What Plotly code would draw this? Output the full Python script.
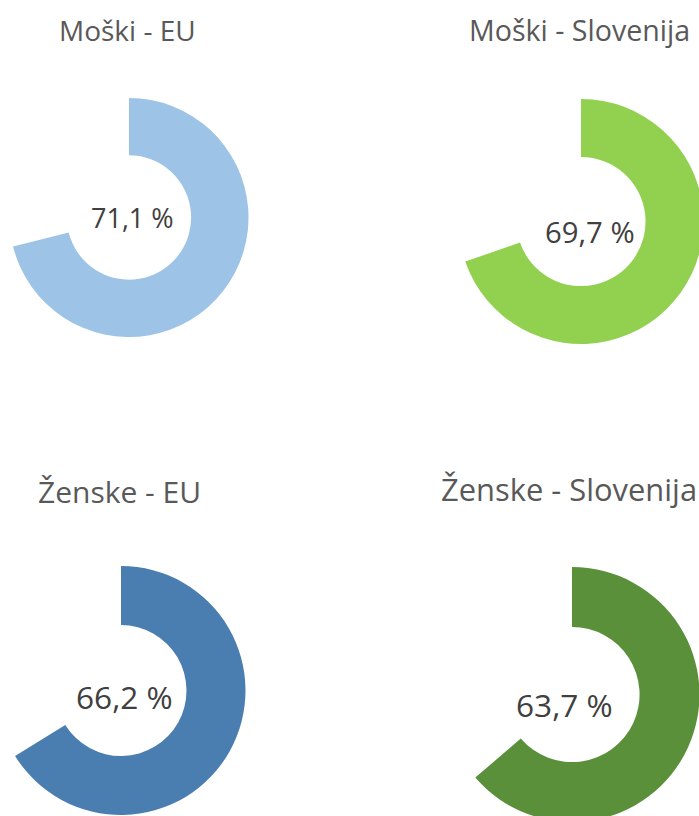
import plotly.graph_objects as go

OFF = 12            # left padding of the canvas, hidden by the page shift below
W, H = 699 + OFF + 20, 840

titles = ["Moški - EU", "Moški - Slovenija", "Ženske - EU", "Ženske - Slovenija"]
values = [71.1, 69.7, 66.2, 63.7]
labels = ["71,1 %", "69,7 %", "66,2 %", "63,7 %"]
colors = ["#9DC3E6", "#92D050", "#4A7EB0", "#5B903A"]

# layout (pixels from top-left of window): pie centre x, centre y, outer radius
centres = [(129, 217.5, 119.5), (581, 221.5, 122.5), (121, 690.5, 124.5), (572, 694.5, 127.5)]
label_pos = [(132.5, 218), (590, 232), (124, 696), (564, 704)]
label_size = [27, 29.3, 31.6, 31.6]
title_pos = [(127, 30), (579, 30), (119.5, 491), (569, 489)]
title_size = [28, 28.6, 30, 30.9]
holes = [0.52, 0.527, 0.526, 0.53]

fig = go.Figure()
for i in range(4):
    cx, cy, r = centres[i]
    cx += OFF
    fig.add_trace(go.Pie(
        values=[values[i], 100 - values[i]],
        labels=["a", "b"],
        marker=dict(colors=[colors[i], "rgba(0,0,0,0)"], line=dict(width=0)),
        hole=holes[i],
        sort=False,
        direction="clockwise",
        rotation=0,
        textinfo="none",
        hoverinfo="skip",
        domain=dict(x=[(cx - r) / W, (cx + r) / W],
                    y=[(H - (cy + r)) / H, (H - (cy - r)) / H]),
        showlegend=False,
    ))
    lx, ly = label_pos[i]
    fig.add_annotation(x=(lx + OFF) / W, y=1 - ly / H, xref="paper", yref="paper",
                       text=labels[i], showarrow=False,
                       font=dict(family="Open Sans", size=label_size[i], color="#404040"),
                       xanchor="center", yanchor="middle")
    tx, ty = title_pos[i]
    fig.add_annotation(x=(tx + OFF) / W, y=1 - ty / H, xref="paper", yref="paper",
                       text=titles[i], showarrow=False,
                       font=dict(family="Open Sans", size=title_size[i], color="#595959"),
                       xanchor="center", yanchor="middle")

fig.update_layout(width=W, height=H, margin=dict(l=0, r=0, t=0, b=0),
                  paper_bgcolor="white", plot_bgcolor="white")
fig.write_html("out.html", config={"displayModeBar": False},
               post_script="document.body.style.margin='0';"
                           "document.body.style.marginLeft='-%dpx';"
                           "document.body.style.overflow='hidden';"
                           "document.documentElement.style.overflow='hidden';" % OFF)
